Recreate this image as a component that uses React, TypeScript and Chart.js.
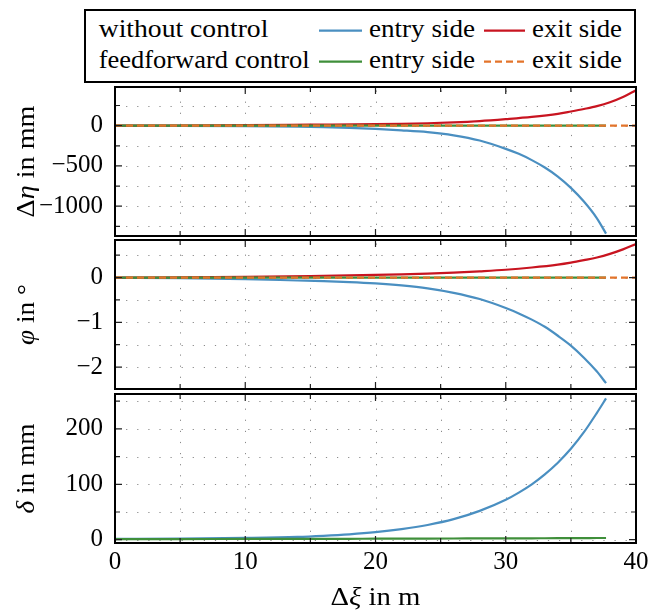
import React, { useEffect, useRef } from 'react';
import { Chart, registerables } from 'chart.js';

Chart.register(...registerables);

const FAMILY = 'Liberation Serif';
const FONT = `"${FAMILY}", serif`;
const TICK_SIZE = 25;

const BLUE = '#4a8fc1';
const RED = '#c81420';
const GREEN = '#3f8f3a';
const ORANGE = '#e3742b';

// Δξ in m
const xEntry = [0, 5, 10, 14, 16, 18, 20, 22, 24, 26, 28, 30, 31, 32, 33, 34, 35, 36, 37, 37.7];
const xExit = [0, 5, 10, 15, 20, 22, 24, 26, 28, 30, 32, 34, 35, 36, 37, 38, 39, 40];

// Δη in mm
const etaEntryNoCtrl = [-1, -2, -6, -13, -19, -28, -41, -58, -80, -120, -185, -288, -350, -428, -520, -632, -772, -942, -1150, -1340];
const etaExitNoCtrl = [0, 2, 6, 12, 18, 23, 30, 40, 56, 80, 108, 147, 176, 207, 242, 290, 355, 440];
const etaEntryFF = [0, 0, 0, 0, 0, 0, 0, 0, 0, 0, 0, 0, 0, 0, 0, 0, 0, 0, 0, 0];
const etaExitFF = [0, 0, 0, 0, 0, 0, 0, 0, 0, 0, 0, 0, 0, 0, 0, 0, 0, 0];

// φ in °
const phiEntryNoCtrl = [-0.005, -0.015, -0.035, -0.065, -0.08, -0.1, -0.13, -0.175, -0.24, -0.34, -0.48, -0.68, -0.8, -0.94, -1.1, -1.3, -1.52, -1.79, -2.1, -2.36];
const phiExitNoCtrl = [0, 0.005, 0.015, 0.035, 0.06, 0.072, 0.088, 0.11, 0.14, 0.175, 0.225, 0.29, 0.335, 0.39, 0.45, 0.53, 0.63, 0.75];
const phiEntryFF = [0, 0, 0, 0, 0, 0, 0, 0, 0, 0, 0, 0, 0, 0, 0, 0, 0, 0, 0, 0];
const phiExitFF = [0, 0, 0, 0, 0, 0, 0, 0, 0, 0, 0, 0, 0, 0, 0, 0, 0, 0];

// δ in mm
const deltaEntryNoCtrl = [1.3, 2, 3.2, 5, 7, 9.7, 13.5, 19, 26.5, 37, 52, 72, 85, 100, 118, 139, 164, 194, 229, 255];
const deltaEntryFF = [1, 1.1, 1.3, 1.4, 1.5, 1.6, 1.8, 1.9, 2, 2.1, 2.3, 2.4, 2.5, 2.5, 2.6, 2.7, 2.8, 2.9, 3, 3];

// ticks
const xTicks = [0, 5, 10, 15, 20, 25, 30, 35, 40];
const xLabels = [0, 10, 20, 30, 40];
const etaTicks = [250, 0, -250, -500, -750, -1000, -1250];
const etaLabels = [0, -500, -1000];
const phiTicks = [0.5, 0, -0.5, -1, -1.5, -2];
const phiLabels = [0, -1, -2];
const deltaTicks = [250, 200, 150, 100, 50, 0];
const deltaLabels = [0, 100, 200];

const xRange = [0, 40];
const etaRange = [-1370, 480];
const phiRange = [-2.49, 0.84];
const deltaRange = [-6, 263];

type Seg = { t: string; i?: boolean };

function drawRich(ctx: CanvasRenderingContext2D, segs: Seg[], x: number, y: number, rot: number, target: number) {
  ctx.save();
  ctx.translate(x, y);
  ctx.rotate(rot);
  ctx.fillStyle = '#000';
  ctx.textBaseline = 'alphabetic';
  ctx.textAlign = 'left';
  const fonts = segs.map((s) => `${s.i ? 'italic ' : ''}${TICK_SIZE}px ${FONT}`);
  const widths = segs.map((s, k) => {
    ctx.font = fonts[k];
    return ctx.measureText(s.t).width;
  });
  const total = widths.reduce((a, b) => a + b, 0);
  ctx.scale(target / total, 1);
  let cx = -total / 2;
  segs.forEach((s, k) => {
    ctx.font = fonts[k];
    ctx.fillText(s.t, cx, 0);
    cx += widths[k];
  });
  ctx.restore();
}

const fmt = (v: number) => (v < 0 ? '\u2212' + Math.abs(v) : String(v));

type PanelCfg = {
  top: number;
  height: number;
  padTop: number;
  padBottom: number;
  showX: boolean;
  datasets: any[];
  yRange: number[];
  yTicks: number[];
  yLabels: number[];
  title: Seg[];
  titleWidth: number;
};

function makeDecor(cfg: PanelCfg) {
  return {
    id: 'panelDecor',
    beforeDatasetsDraw(chart: any) {
      const { ctx, chartArea: a, scales } = chart;
      const xs = scales.x;
      const ys = scales.y;
      ctx.save();
      ctx.strokeStyle = '#8a8a8a';
      ctx.lineWidth = 1;
      ctx.setLineDash([1.2, 9.9]);
      xTicks.forEach((v) => {
        const px = Math.round(xs.getPixelForValue(v)) + 0.5;
        if (px <= a.left + 1 || px >= a.right - 1) return;
        ctx.beginPath();
        ctx.moveTo(px, a.bottom);
        ctx.lineTo(px, a.top);
        ctx.stroke();
      });
      cfg.yTicks.forEach((v) => {
        const py = Math.round(ys.getPixelForValue(v)) + 0.5;
        if (py <= a.top + 1 || py >= a.bottom - 1) return;
        ctx.beginPath();
        ctx.moveTo(a.left, py);
        ctx.lineTo(a.right, py);
        ctx.stroke();
      });
      ctx.restore();
    },
    afterDatasetsDraw(chart: any) {
      const { ctx, chartArea: a, scales } = chart;
      const xs = scales.x;
      const ys = scales.y;
      ctx.save();
      ctx.strokeStyle = '#222';
      ctx.lineWidth = 1.2;
      xTicks.forEach((v) => {
        const px = xs.getPixelForValue(v);
        const len = xLabels.includes(v) ? 7 : 5;
        ctx.beginPath();
        ctx.moveTo(px, a.bottom);
        ctx.lineTo(px, a.bottom - len);
        ctx.moveTo(px, a.top);
        ctx.lineTo(px, a.top + len);
        ctx.stroke();
      });
      cfg.yTicks.forEach((v) => {
        const py = ys.getPixelForValue(v);
        const len = cfg.yLabels.includes(v) ? 7 : 5;
        ctx.beginPath();
        ctx.moveTo(a.left, py);
        ctx.lineTo(a.left + len, py);
        ctx.moveTo(a.right, py);
        ctx.lineTo(a.right - len, py);
        ctx.stroke();
      });
      ctx.strokeStyle = '#000';
      ctx.lineWidth = 2;
      ctx.strokeRect(a.left, a.top, a.right - a.left, a.bottom - a.top);
      ctx.restore();
    },
    afterDraw(chart: any) {
      const { ctx, chartArea: a } = chart;
      drawRich(ctx, cfg.title, 33.5, (a.top + a.bottom) / 2, -Math.PI / 2, cfg.titleWidth);
      if (cfg.showX) {
        drawRich(ctx, [{ t: 'Δ' }, { t: 'ξ', i: true }, { t: ' in m' }], (a.left + a.right) / 2, 605 - cfg.top, 0, 90);
      }
    },
  };
}

function series(xs: number[], ys: number[], color: string, order: number, dash?: number[]) {
  return {
    data: xs.map((x, i) => ({ x, y: ys[i] })),
    borderColor: color,
    backgroundColor: color,
    borderWidth: 2.2,
    borderDash: dash || [],
    pointRadius: 0,
    cubicInterpolationMode: 'monotone',
    fill: false,
    order,
  };
}

function Panel({ cfg }: { cfg: PanelCfg }) {
  const ref = useRef<HTMLCanvasElement>(null);
  useEffect(() => {
    const canvas = ref.current!;
    const chart = new Chart(canvas, {
      type: 'line',
      data: { datasets: cfg.datasets },
      options: {
        animation: false,
        responsive: false,
        devicePixelRatio: 1,
        events: [],
        layout: { padding: { top: cfg.padTop, bottom: cfg.padBottom, left: 0, right: 26 } },
        plugins: { legend: { display: false }, tooltip: { enabled: false }, title: { display: false } },
        scales: {
          x: {
            type: 'linear',
            min: xRange[0],
            max: xRange[1],
            display: cfg.showX,
            grid: { display: false, drawTicks: false },
            border: { display: false },
            afterBuildTicks: (s: any) => {
              s.ticks = xLabels.map((v) => ({ value: v }));
            },
            afterFit: (s: any) => {
              if (cfg.showX) s.height = cfg.height - cfg.padTop - 149;
              s.paddingLeft = 0;
              s.paddingRight = 0;
              s.paddingTop = 0;
              s.paddingBottom = 0;
            },
            ticks: {
              autoSkip: false,
              maxRotation: 0,
              padding: 4,
              color: '#000',
              font: { family: FONT, size: TICK_SIZE },
              callback: (v: any) => fmt(Number(v)),
            },
          },
          y: {
            type: 'linear',
            min: cfg.yRange[0],
            max: cfg.yRange[1],
            grid: { display: false, drawTicks: false },
            border: { display: false },
            afterBuildTicks: (s: any) => {
              s.ticks = cfg.yLabels.map((v) => ({ value: v }));
            },
            afterFit: (s: any) => {
              s.width = 115;
              s.paddingLeft = 0;
              s.paddingRight = 0;
              s.paddingTop = 0;
              s.paddingBottom = 0;
            },
            ticks: {
              autoSkip: false,
              padding: 12,
              color: '#000',
              font: { family: FONT, size: TICK_SIZE },
              callback: (v: any) => fmt(Number(v)),
            },
          },
        },
      } as any,
      plugins: [makeDecor(cfg)],
    });
    return () => chart.destroy();
  }, [cfg]);
  return (
    <canvas
      ref={ref}
      width={662}
      height={cfg.height}
      style={{ position: 'absolute', left: 0, top: cfg.top, width: 662, height: cfg.height }}
    />
  );
}

const panels: PanelCfg[] = [
  {
    top: 84,
    height: 154,
    padTop: 3,
    padBottom: 2,
    showX: false,
    yRange: etaRange,
    yTicks: etaTicks,
    yLabels: etaLabels,
    title: [{ t: 'Δ' }, { t: 'η', i: true }, { t: ' in mm' }],
    titleWidth: 112,
    datasets: [
      series(xEntry, etaEntryNoCtrl, BLUE, 3),
      series(xExit, etaExitNoCtrl, RED, 2),
      series(xEntry, etaEntryFF, GREEN, 1),
      series(xExit, etaExitFF, ORANGE, 0, [7, 4]),
    ],
  },
  {
    top: 238,
    height: 154,
    padTop: 2,
    padBottom: 3,
    showX: false,
    yRange: phiRange,
    yTicks: phiTicks,
    yLabels: phiLabels,
    title: [{ t: 'φ', i: true }, { t: ' in °' }],
    titleWidth: 61,
    datasets: [
      series(xEntry, phiEntryNoCtrl, BLUE, 3),
      series(xExit, phiExitNoCtrl, RED, 2),
      series(xEntry, phiEntryFF, GREEN, 1),
      series(xExit, phiExitFF, ORANGE, 0, [7, 4]),
    ],
  },
  {
    top: 392,
    height: 218,
    padTop: 2,
    padBottom: 0,
    showX: true,
    yRange: deltaRange,
    yTicks: deltaTicks,
    yLabels: deltaLabels,
    title: [{ t: 'δ', i: true }, { t: ' in mm' }],
    titleWidth: 90,
    datasets: [
      series(xEntry, deltaEntryNoCtrl, BLUE, 3),
      series(xEntry, deltaEntryFF, GREEN, 1),
    ],
  },
];

const legendRows = [
  { label: 'without control', labelLen: 169.7, y: 36.7, lineY: 30.7, entry: BLUE, exit: RED, exitDash: '' },
  { label: 'feedforward control', labelLen: 211, y: 68.3, lineY: 61.7, entry: GREEN, exit: ORANGE, exitDash: '7 4' },
];

function Legend() {
  const textStyle = { fontFamily: FONT, fontSize: TICK_SIZE, fill: '#000' } as any;
  return (
    <svg width={662} height={90} style={{ position: 'absolute', left: 0, top: 0 }}>
      <rect x={85} y={10} width={550} height={72} fill="#fff" stroke="#000" strokeWidth={2} />
      {legendRows.map((r) => (
        <g key={r.label}>
          <text x={98.7} y={r.y} textLength={r.labelLen} lengthAdjust="spacingAndGlyphs" style={textStyle}>
            {r.label}
          </text>
          <line x1={319} x2={362} y1={r.lineY} y2={r.lineY} stroke={r.entry} strokeWidth={2.2} />
          <text x={369} y={r.y} textLength={106} lengthAdjust="spacingAndGlyphs" style={textStyle}>
            entry side
          </text>
          <line
            x1={484}
            x2={525}
            y1={r.lineY}
            y2={r.lineY}
            stroke={r.exit}
            strokeWidth={2.2}
            strokeDasharray={r.exitDash || undefined}
          />
          <text x={532} y={r.y} textLength={90} lengthAdjust="spacingAndGlyphs" style={textStyle}>
            exit side
          </text>
        </g>
      ))}
    </svg>
  );
}

export default function App() {
  return (
    <div
      style={{
        position: 'fixed',
        left: 0,
        top: 0,
        width: 662,
        height: 610,
        overflow: 'hidden',
        background: '#fff',
      }}
    >
      <Legend />
      {panels.map((p, i) => (
        <Panel key={i} cfg={p} />
      ))}
    </div>
  );
}
